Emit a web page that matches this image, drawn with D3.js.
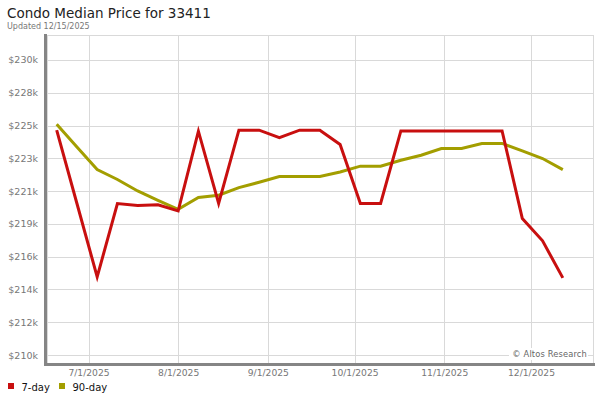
<!DOCTYPE html>
<html>
<head>
<meta charset="utf-8">
<script src="https://cdn.jsdelivr.net/npm/d3@7"></script>
<style>
  html, body { margin: 0; padding: 0; background: #fff; }
  svg { display: block; font-family: "DejaVu Sans", sans-serif; }
</style>
</head>
<body>
<svg id="chart" width="600" height="400"></svg>
<script>
// ---- data ----
const title = "Condo Median Price for 33411";
const subtitle = "Updated 12/15/2025";
const startDate = "2025-06-20";   // first weekly point
const seriesNames = ["7-day", "90-day"];
const seriesColors = ["#c80f0f", "#a39e00"];
const sevenDay = [225.24, 220.27, 215.30, 220.27, 220.14, 220.18, 219.77, 225.17, 220.27, 225.24,
                  225.24, 224.74, 225.24, 225.24, 224.27, 220.27, 220.27, 225.19, 225.19, 225.19,
                  225.19, 225.19, 225.19, 219.25, 217.74, 215.23];
const ninetyDay = [225.64, 224.10, 222.57, 221.90, 221.12, 220.49, 219.88, 220.68, 220.83, 221.35,
                   221.71, 222.10, 222.10, 222.10, 222.41, 222.80, 222.80, 223.20, 223.54, 224.00,
                   224.00, 224.34, 224.34, 223.83, 223.32, 222.57];
const yTickLabels = ["$210k", "$212k", "$214k", "$216k", "$219k", "$221k", "$223k", "$225k", "$228k", "$230k"];
const xTickDates = ["2025-07-01", "2025-08-01", "2025-09-01", "2025-10-01", "2025-11-01", "2025-12-01"];
const xTickLabels = ["7/1/2025", "8/1/2025", "9/1/2025", "10/1/2025", "11/1/2025", "12/1/2025"];
const credit = "\u00A9 Altos Research";

// ---- layout ----
const svg = d3.select("#chart");
const plot = { left: 47, right: 593, top: 35, bottom: 363 };
const parse = d3.utcParse("%Y-%m-%d");
const t0 = parse(startDate);
const dates = sevenDay.map((_, i) => d3.utcDay.offset(t0, 7 * i));

const x = d3.scaleUtc()
  .domain([parse("2025-07-01"), parse("2025-12-01")])
  .range([88.5, 531]);
const y = d3.scaleLinear().domain([210, 230]).range([355.1, 59.9]);
const yTicks = yTickLabels.map((_, i) => 210 + i * 20 / 9);

// title
svg.append("text").attr("x", 7).attr("y", 18)
  .attr("font-size", 13.5).attr("fill", "#222").text(title);
svg.append("text").attr("x", 7).attr("y", 28.5)
  .attr("font-size", 8).attr("fill", "#777").text(subtitle);

// plot background
svg.append("rect").attr("x", plot.left).attr("y", plot.top)
  .attr("width", plot.right - plot.left).attr("height", plot.bottom - plot.top)
  .attr("fill", "#fff").attr("stroke", "#d9d9d9").attr("stroke-width", 1)
  .attr("shape-rendering", "crispEdges");

// grid
const grid = svg.append("g").attr("stroke", "#d9d9d9").attr("stroke-width", 1)
  .attr("shape-rendering", "crispEdges");
grid.selectAll("line.h").data(yTicks).join("line")
  .attr("x1", plot.left).attr("x2", plot.right)
  .attr("y1", d => Math.round(y(d)) + 0.5).attr("y2", d => Math.round(y(d)) + 0.5);
grid.selectAll("line.v").data(xTickDates).join("line")
  .attr("x1", d => Math.round(x(parse(d))) + 0.5).attr("x2", d => Math.round(x(parse(d))) + 0.5)
  .attr("y1", plot.top).attr("y2", plot.bottom);

// y axis labels
const yAxis = d3.axisLeft(y).tickValues(yTicks)
  .tickFormat((d, i) => yTickLabels[i]).tickSize(0).tickPadding(0);
const gy = svg.append("g").attr("transform", `translate(38,0)`).call(yAxis);
gy.select(".domain").remove();
gy.selectAll("text").attr("font-size", 9.5).attr("fill", "#777")
  .attr("font-family", "DejaVu Sans, sans-serif");

// x axis labels
const xAxis = d3.axisBottom(x).tickValues(xTickDates.map(parse))
  .tickFormat((d, i) => xTickLabels[i]).tickSize(0).tickPadding(0);
const gx = svg.append("g").attr("transform", `translate(0,369)`).call(xAxis);
gx.select(".domain").remove();
gx.selectAll("text").attr("font-size", 9.2).attr("fill", "#777")
  .attr("font-family", "DejaVu Sans, sans-serif");

// credit
const cw = 76;
svg.append("rect").attr("x", 588 - cw - 3).attr("y", 348).attr("width", cw + 3).attr("height", 12).attr("fill", "#fff");
svg.append("text").attr("x", 587).attr("y", 357).attr("text-anchor", "end")
  .attr("font-size", 8.3).attr("letter-spacing", 0.15).attr("fill", "#666").text(credit);

// frame axes (thick gray left & bottom)
svg.append("rect").attr("x", 44).attr("y", 34).attr("width", 3).attr("height", 332).attr("fill", "#858585");
svg.append("rect").attr("x", 44).attr("y", 363).attr("width", 551).attr("height", 3).attr("fill", "#858585");

// lines
const line = d3.line().x((d, i) => x(dates[i])).y(d => y(d));
[ninetyDay, sevenDay].forEach((s, k) => {
  const idx = k === 0 ? 1 : 0;
  svg.append("path").datum(s).attr("d", line)
    .attr("fill", "none").attr("stroke", seriesColors[idx])
    .attr("stroke-width", 3).attr("stroke-linejoin", "miter");
});

// legend
const lg = svg.append("g");
const legendX = [8, 59];
seriesNames.forEach((n, i) => {
  lg.append("rect").attr("x", legendX[i]).attr("y", 383).attr("width", 6).attr("height", 6).attr("fill", seriesColors[i]);
  lg.append("text").attr("x", legendX[i] + 13.5).attr("y", 390.5)
    .attr("font-size", 10).attr("fill", "#111").text(n);
});
</script>
</body>
</html>
